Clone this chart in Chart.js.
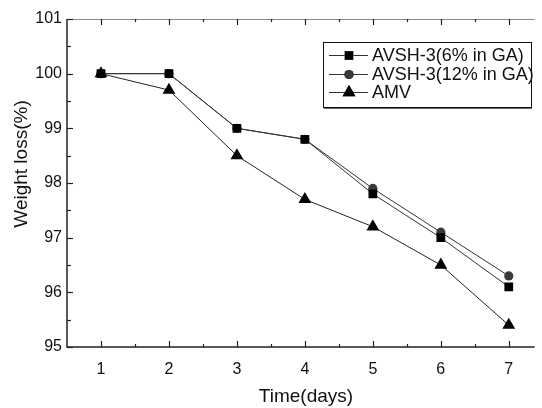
<!DOCTYPE html>
<html>
<head>
<meta charset="utf-8">
<script src="https://cdn.jsdelivr.net/npm/chart.js@4/dist/chart.umd.min.js"></script>
<style>
  html, body { margin: 0; padding: 0; background: #fff; }
  #wrap { width: 542px; height: 408px; }
</style>
</head>
<body>
<div id="wrap"><canvas id="myChart" width="542" height="408"></canvas></div>
<script>
// Data

const days = [1, 2, 3, 4, 5, 6, 7];
const avsh6 = [100, 100, 99, 98.8, 97.8, 97.0, 96.1];
const avsh12 = [100, 100, 99, 98.8, 97.9, 97.1, 96.3];
const amv = [100, 99.7, 98.5, 97.7, 97.2, 96.5, 95.4];

const seriesNames = ["AVSH-3(6% in GA)", "AVSH-3(12% in GA)", "AMV"];
const yTicks = [95, 96, 97, 98, 99, 100, 101];
const xTitle = "Time(days)";
const yTitle = "Weight loss(%)";

const FONT = "'Liberation Sans', Arial, sans-serif";

function toPoints(ys) {
    return days.map((d, i) => ({x: d, y: ys[i]}));
}

// Draws the frame, inward ticks, axis titles and the boxed legend
const framePlugin = {
    id: "frame",
    afterDraw(chart) {
        const ctx = chart.ctx;
        const area = chart.chartArea;
        const xs = chart.scales.x;
        const ys = chart.scales.y;

        ctx.save();
        ctx.strokeStyle = "#222";
        ctx.lineWidth = 1.5;
        ctx.beginPath();
        ctx.moveTo(area.left, area.top);
        ctx.lineTo(area.left, area.bottom);
        ctx.lineTo(area.right, area.bottom);
        ctx.stroke();

        ctx.lineWidth = 1;
        ctx.strokeStyle = "#888";
        ctx.beginPath();
        ctx.moveTo(area.left, area.top + 0.5);
        ctx.lineTo(area.right, area.top + 0.5);
        ctx.stroke();

        // x ticks (bottom and top)
        ctx.strokeStyle = "#222";
        ctx.lineWidth = 1.2;
        for (let v = 1; v <= 7.5; v += 0.5) {
            const px = Math.round(xs.getPixelForValue(v)) + 0.5;
            if (px > area.right) continue;
            const len = Number.isInteger(v) ? 6 : 3;
            ctx.beginPath();
            ctx.moveTo(px, area.bottom);
            ctx.lineTo(px, area.bottom - len);
            ctx.moveTo(px, area.top);
            ctx.lineTo(px, area.top + len);
            ctx.stroke();
        }

        // y ticks
        for (let v = 95; v <= 101; v += 0.5) {
            const py = Math.round(ys.getPixelForValue(v)) + 0.5;
            const len = Number.isInteger(v) ? 6 : 4;
            ctx.beginPath();
            ctx.moveTo(area.left, py);
            ctx.lineTo(area.left + len, py);
            ctx.stroke();
        }

        // axis titles
        ctx.fillStyle = "#111";
        ctx.font = "19px " + FONT;
        ctx.textAlign = "center";
        ctx.textBaseline = "middle";
        ctx.fillText(xTitle, 306, 397);
        ctx.save();
        ctx.translate(22, 164);
        ctx.rotate(-Math.PI / 2);
        ctx.fillText(yTitle, 0, 0);
        ctx.restore();

        // legend box
        const bx = 323, by = 42, bw = 208, bh = 65;
        ctx.fillStyle = "#fff";
        ctx.fillRect(bx, by, bw, bh);
        ctx.strokeStyle = "#111";
        ctx.lineWidth = 1;
        ctx.strokeRect(bx + 0.5, by + 0.5, bw, bh);
        ctx.strokeStyle = "#666";
        ctx.beginPath();
        ctx.moveTo(bx + 1, by + bh + 1.5);
        ctx.lineTo(bx + bw + 1, by + bh + 1.5);
        ctx.stroke();

        ctx.font = "18px " + FONT;
        ctx.textBaseline = "middle";
        ctx.textAlign = "left";
        const rows = [55, 74, 92];
        chart.data.datasets.forEach((ds, i) => {
            const ry = rows[i];
            ctx.strokeStyle = "#333";
            ctx.lineWidth = 1;
            ctx.beginPath();
            ctx.moveTo(329, ry + 0.5);
            ctx.lineTo(368, ry + 0.5);
            ctx.stroke();
            Chart.helpers.drawPoint(ctx, {
                pointStyle: ds.pointStyle,
                radius: ds.pointRadius,
                rotation: 0,
                borderWidth: 0
            }, 349, ry + 0.5);
            ctx.fillStyle = ds.pointBackgroundColor;
            ctx.fill();
            ctx.fillStyle = "#111";
            ctx.fillText(ds.label, 372, ry + 1);
        });
        ctx.restore();
    }
};

const chart = new Chart("myChart", {
    type: "line",
    data: {
        datasets: [
            {
                label: seriesNames[0],
                data: toPoints(avsh6),
                order: 1,
                borderColor: "#333",
                borderWidth: 1,
                pointStyle: "rect",
                pointRadius: 6.2,
                pointBackgroundColor: "#000",
                pointBorderWidth: 0,
                tension: 0
            },
            {
                label: seriesNames[1],
                data: toPoints(avsh12),
                order: 2,
                borderColor: "#333",
                borderWidth: 1,
                pointStyle: "circle",
                pointRadius: 4.6,
                pointBackgroundColor: "#3a3a3a",
                pointBorderWidth: 0,
                tension: 0
            },
            {
                label: seriesNames[2],
                data: toPoints(amv),
                order: 0,
                borderColor: "#222",
                borderWidth: 1,
                pointStyle: "triangle",
                pointRadius: 7.4,
                pointBackgroundColor: "#000",
                pointBorderWidth: 0,
                tension: 0
            }
        ]
    },
    options: {
        responsive: false,
        animation: false,
        events: [],
        layout: {padding: {top: 19, left: 0, right: 0, bottom: 0}},
        plugins: {
            legend: {display: false},
            tooltip: {enabled: false}
        },
        scales: {
            x: {
                type: "linear",
                min: 0.5,
                max: 7.38,
                afterBuildTicks(scale) {
                    scale.ticks = days.map(d => ({value: d}));
                },
                afterFit(scale) { scale.height = 61; },
                grid: {display: false, drawTicks: false},
                border: {display: false},
                ticks: {
                    padding: 13,
                    color: "#111",
                    font: {family: FONT, size: 16}
                }
            },
            y: {
                min: 95,
                max: 101,
                afterBuildTicks(scale) {
                    scale.ticks = yTicks.map(v => ({value: v}));
                },
                afterFit(scale) { scale.width = 67; },
                grid: {display: false, drawTicks: false},
                border: {display: false},
                ticks: {
                    padding: 5,
                    color: "#111",
                    font: {family: FONT, size: 16}
                }
            }
        }
    },
    plugins: [framePlugin]
});
</script>
</body>
</html>
